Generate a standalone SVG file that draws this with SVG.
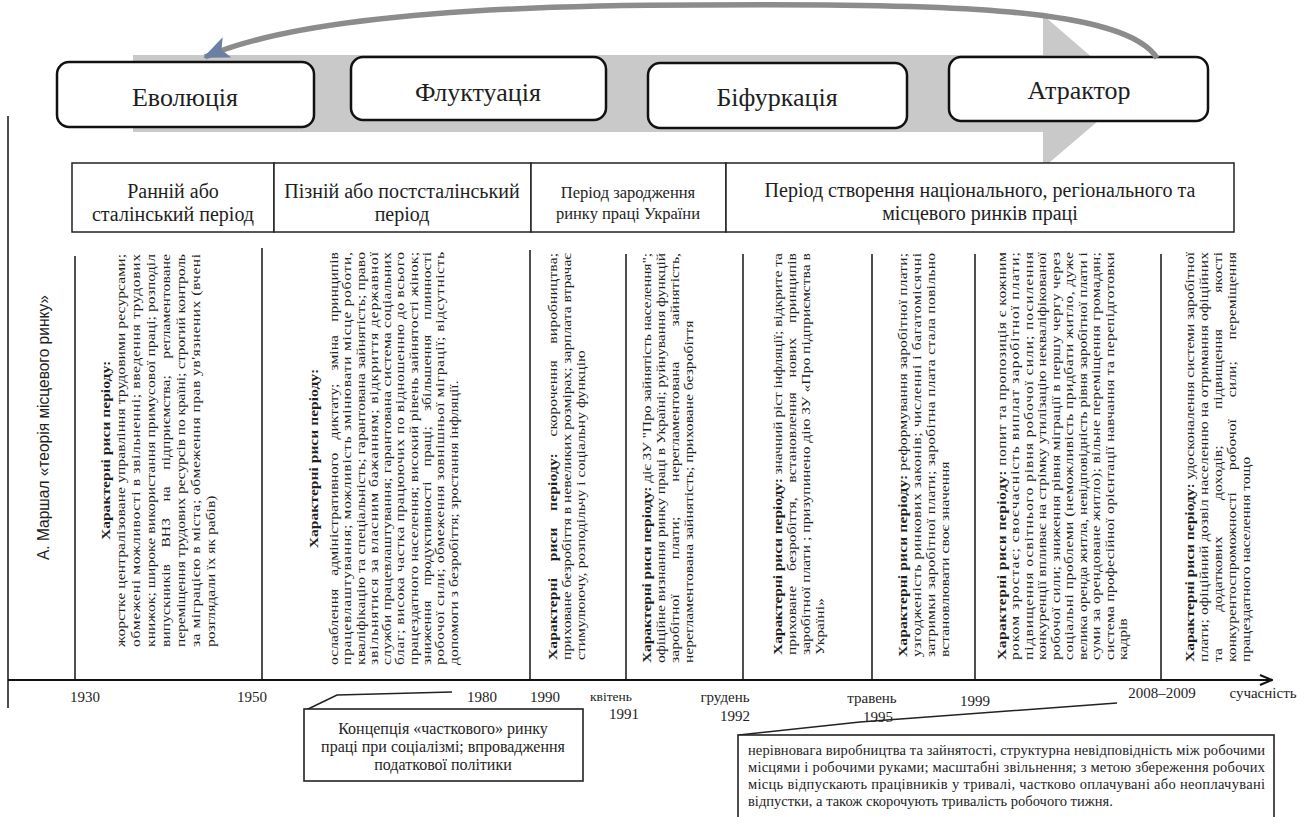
<svg xmlns="http://www.w3.org/2000/svg" width="1305" height="817" viewBox="0 0 1305 817" font-family="'Liberation Serif', 'Times New Roman', Times, 'DejaVu Serif', serif">
  <defs>
    <marker id="curveHead" viewBox="0 0 26 22" refX="24" refY="11" markerWidth="26" markerHeight="22" markerUnits="userSpaceOnUse" orient="auto">
      <path d="M0,0 L26,11 L0,22 L6,11 Z" fill="#6a7fa2"/>
    </marker>
    <marker id="axisHead" viewBox="0 0 14 12" refX="13" refY="6" markerWidth="14" markerHeight="12" markerUnits="userSpaceOnUse" orient="auto">
      <path d="M1,1 L13,6 L1,11" fill="none" stroke="#111" stroke-width="2"/>
    </marker>
    <style>
      text { fill: #1e1e1e; }
      .node rect { fill: #ffffff; stroke: #111; stroke-width: 2.5; }
      .nl { font-size: 26px; text-anchor: middle; }
      .hdr { font-size: 20px; text-anchor: middle; }
      .hdrs { font-size: 16.5px; text-anchor: middle; }
      .cell { fill: #ffffff; stroke: #222; stroke-width: 1.5; }
      .vline { stroke: #222; stroke-width: 1.6; }
      .vt { font-size: 12px; }
      .b { font-weight: bold; }
      .mid { text-anchor: middle; }
      .tick { font-size: 15px; text-anchor: middle; }
      .box { fill: #ffffff; stroke: #222; stroke-width: 1.6; }
      .lead { fill: none; stroke: #222; stroke-width: 1.6; }
    </style>
  </defs>

  <rect width="1305" height="817" fill="#ffffff"/>

  <!-- broad grey process arrow behind the phase boxes -->
  <path d="M133,55 H1043 V15 L1132,92 L1043,168 V132 H133 Z" fill="#c9c9c9"/>

  <!-- phases -->
  <g id="node-evolution" class="node">
    <rect x="57" y="62" width="257" height="65" rx="12"/>
    <text class="nl" x="185" y="106">Еволюція</text>
  </g>
  <g id="node-fluctuation" class="node">
    <rect x="351" y="57" width="255" height="63" rx="12"/>
    <text class="nl" x="478" y="101">Флуктуація</text>
  </g>
  <g id="node-bifurcation" class="node">
    <rect x="648" y="63" width="259" height="65" rx="12"/>
    <text class="nl" x="777" y="106">Біфуркація</text>
  </g>
  <g id="node-attractor" class="node">
    <rect x="949" y="57" width="259" height="64" rx="12"/>
    <text class="nl" x="1079" y="99">Атрактор</text>
  </g>

  <!-- period header row -->
  <g id="periods">
    <rect class="cell" x="72" y="163" width="202" height="69"/>
    <rect class="cell" x="274" y="163" width="257" height="69"/>
    <rect class="cell" x="531" y="163" width="195" height="69"/>
    <rect class="cell" x="726" y="163" width="508" height="69"/>
    <text class="hdr" x="173" y="198">Ранній або</text>
    <text class="hdr" x="173" y="221">сталінський період</text>
    <text class="hdr" x="402" y="198">Пізній або постсталінський</text>
    <text class="hdr" x="402" y="221">період</text>
    <text class="hdrs" x="628" y="198">Період зародження</text>
    <text class="hdrs" x="628" y="219">ринку праці України</text>
    <text class="hdr" x="980" y="197">Період створення національного, регіонального та</text>
    <text class="hdr" x="980" y="220">місцевого ринків праці</text>
  </g>

  <!-- frame: left rule, column rules and time axis -->
  <g id="frame">
    <line class="vline" x1="8" y1="116" x2="8" y2="708"/>
    <line class="vline" x1="75" y1="256" x2="75" y2="680"/>
    <line class="vline" x1="262" y1="248" x2="262" y2="680"/>
    <line class="vline" x1="530" y1="250" x2="530" y2="680"/>
    <line class="vline" x1="626" y1="254" x2="626" y2="680"/>
    <line class="vline" x1="743" y1="254" x2="743" y2="680"/>
    <line class="vline" x1="872" y1="254" x2="872" y2="680"/>
    <line class="vline" x1="975" y1="254" x2="975" y2="680"/>
    <line class="vline" x1="1161" y1="254" x2="1161" y2="680"/>
    <line x1="8" y1="680" x2="1272" y2="680" stroke="#111" stroke-width="2" marker-end="url(#axisHead)"/>
  </g>

  <text transform="translate(49,560) rotate(-90)" font-family="'Liberation Sans', Arial, sans-serif" font-size="17" textLength="265" lengthAdjust="spacingAndGlyphs">А. Маршал «теорія місцевого ринку»</text>

  <!-- column 1930–1950 -->
  <g id="col-1930" class="vt" transform="translate(110,647) rotate(-90) scale(1.3,1)">
    <text class="b mid" x="151.2" y="0">Характерні риси періоду:</text>
    <text x="0" y="15" textLength="302.3" lengthAdjust="spacing">жорстке централізоване управління трудовими ресурсами;</text>
    <text x="0" y="30" textLength="302.3" lengthAdjust="spacing">обмежені можливості в звільненні; введення трудових</text>
    <text x="0" y="45" textLength="302.3" lengthAdjust="spacing">книжок; широке використання примусової праці; розподіл</text>
    <text x="0" y="60" textLength="302.3" lengthAdjust="spacing" word-spacing="9.6">випускників ВНЗ на підприємства; регламентоване</text>
    <text x="0" y="75" textLength="302.3" lengthAdjust="spacing">переміщення трудових ресурсів по країні; строгий контроль</text>
    <text x="0" y="90" textLength="302.3" lengthAdjust="spacing">за міграцією в міста; обмеження прав ув'язнених (вчені</text>
    <text x="0" y="105">розглядали їх як рабів)</text>
  </g>

  <!-- column 1950–1990 -->
  <g id="col-1950" class="vt" transform="translate(318,665) rotate(-90) scale(1.3,1)">
    <text class="b mid" x="158.8" y="0">Характерні риси періоду:</text>
    <text x="0" y="20" textLength="317.7" lengthAdjust="spacing" word-spacing="7">ослаблення адміністративного диктату; зміна принципів</text>
    <text x="0" y="33.3" textLength="317.7" lengthAdjust="spacing">працевлаштування; можливість змінювати місце роботи,</text>
    <text x="0" y="46.6" textLength="317.7" lengthAdjust="spacing">кваліфікацію та спеціальність; гарантована зайнятість; право</text>
    <text x="0" y="59.9" textLength="317.7" lengthAdjust="spacing">звільнятися за власним бажанням; відкриття державної</text>
    <text x="0" y="73.2" textLength="317.7" lengthAdjust="spacing">служби працевлаштування; гарантована система соціальних</text>
    <text x="0" y="86.5" textLength="317.7" lengthAdjust="spacing">благ; висока частка працюючих по відношенню до всього</text>
    <text x="0" y="99.8" textLength="317.7" lengthAdjust="spacing">працездатного населення; високий рівень зайнятості жінок;</text>
    <text x="0" y="113.1" textLength="317.7" lengthAdjust="spacing" word-spacing="8.6">зниження продуктивності праці; збільшення плинності</text>
    <text x="0" y="126.4" textLength="317.7" lengthAdjust="spacing">робочої сили; обмеження зовнішньої міграції; відсутність</text>
    <text x="0" y="139.7">допомоги з безробіття; зростання інфляції.</text>
  </g>

  <!-- column 1990–1991 -->
  <g id="col-1990" class="vt" transform="translate(557,660) rotate(-90) scale(1.3,1)">
    <text x="0" y="0" textLength="313.1" lengthAdjust="spacing" word-spacing="9.6"><tspan class="b">Характерні риси періоду:</tspan> скорочення виробництва;</text>
    <text x="0" y="14" textLength="313.1" lengthAdjust="spacing">приховане безробіття в невеликих розмірах; зарплата втрачає</text>
    <text x="0" y="28">стимулюючу, розподільчу і соціальну функцію</text>
  </g>

  <!-- column 1991–1992 -->
  <g id="col-1991" class="vt" transform="translate(651,663) rotate(-90) scale(1.3,1)">
    <text x="0" y="0" textLength="315.4" lengthAdjust="spacing"><tspan class="b">Характерні риси періоду:</tspan> діє ЗУ "Про зайнятість населення";</text>
    <text x="0" y="14" textLength="315.4" lengthAdjust="spacing">офіційне визнання ринку праці в Україні; руйнування функцій</text>
    <text x="0" y="28" textLength="315.4" lengthAdjust="spacing" word-spacing="23.9">заробітної плати; нерегламентована зайнятість,</text>
    <text x="0" y="42">нерегламентована зайнятість; приховане безробіття</text>
  </g>

  <!-- column 1992–1995 -->
  <g id="col-1992" class="vt" transform="translate(782,655) rotate(-90) scale(1.3,1)">
    <text x="0" y="0" textLength="309.2" lengthAdjust="spacing"><tspan class="b">Характерні риси періоду:</tspan> значний ріст інфляції; відкрите та</text>
    <text x="0" y="14" textLength="309.2" lengthAdjust="spacing" word-spacing="8.3">приховане безробіття, встановлення нових принципів</text>
    <text x="0" y="28" textLength="309.2" lengthAdjust="spacing">заробітної плати ; призупинено дію ЗУ «Про підприємства в</text>
    <text x="0" y="42">Україні»</text>
  </g>

  <!-- column 1995–1999 -->
  <g id="col-1995" class="vt" transform="translate(907,657) rotate(-90) scale(1.3,1)">
    <text x="0" y="0" textLength="310.8" lengthAdjust="spacing"><tspan class="b">Характерні риси періоду:</tspan> реформування заробітної плати;</text>
    <text x="0" y="14" textLength="310.8" lengthAdjust="spacing">узгодженість ринкових законів; численні і багатомісячні</text>
    <text x="0" y="28" textLength="310.8" lengthAdjust="spacing">затримки заробітної плати; заробітна плата стала повільно</text>
    <text x="0" y="42">встановлювати своє значення</text>
  </g>

  <!-- column 1999–2009 -->
  <g id="col-1999" class="vt" transform="translate(1006,660) rotate(-90) scale(1.3,1)">
    <text x="0" y="0" textLength="313.8" lengthAdjust="spacing"><tspan class="b">Характерні риси періоду:</tspan> попит та пропозиція є кожним</text>
    <text x="0" y="13.5" textLength="313.8" lengthAdjust="spacing">роком зростає; своєчасність виплат заробітної плати;</text>
    <text x="0" y="27" textLength="313.8" lengthAdjust="spacing">підвищення освітнього рівня робочої сили; посилення</text>
    <text x="0" y="40.5" textLength="313.8" lengthAdjust="spacing">конкуренції впливає на стрімку утилізацію некваліфікованої</text>
    <text x="0" y="54" textLength="313.8" lengthAdjust="spacing">робочої сили; зниження рівня міграції в першу чергу через</text>
    <text x="0" y="67.5" textLength="313.8" lengthAdjust="spacing">соціальні проблеми (неможливість придбати житло, дуже</text>
    <text x="0" y="81" textLength="313.8" lengthAdjust="spacing">велика оренда житла, невідповідність рівня заробітної плати і</text>
    <text x="0" y="94.5" textLength="313.8" lengthAdjust="spacing">суми за орендоване житло); вільне переміщення громадян;</text>
    <text x="0" y="108" textLength="313.8" lengthAdjust="spacing">система професійної орієнтації навчання та перепідготовки</text>
    <text x="0" y="121.5">кадрів</text>
  </g>

  <!-- column 2009–present -->
  <g id="col-2009" class="vt" transform="translate(1194,662) rotate(-90) scale(1.3,1)">
    <text x="0" y="0" textLength="315.4" lengthAdjust="spacing"><tspan class="b">Характерні риси періоду:</tspan> удосконалення системи заробітної</text>
    <text x="0" y="14" textLength="315.4" lengthAdjust="spacing">плати; офіційний дозвіл населенню на отримання офіційних</text>
    <text x="0" y="28" textLength="315.4" lengthAdjust="spacing" word-spacing="24.7">та додаткових доходів; підвищення якості</text>
    <text x="0" y="42" textLength="315.4" lengthAdjust="spacing" word-spacing="13.8">конкурентоспроможності робочої сили; переміщення</text>
    <text x="0" y="56">працездатного населення тощо</text>
  </g>

  <!-- axis labels -->
  <g id="axis-labels" class="tick">
    <text x="85" y="702">1930</text>
    <text x="252" y="702">1950</text>
    <text x="482" y="702">1980</text>
    <text x="545" y="702">1990</text>
    <text x="611" y="701" font-size="13.5">квітень</text>
    <text x="624" y="719">1991</text>
    <text x="725" y="702">грудень</text>
    <text x="735" y="721">1992</text>
    <text x="872" y="703">травень</text>
    <text x="878" y="722">1995</text>
    <text x="975" y="706">1999</text>
    <text x="1162" y="698">2008–2009</text>
    <text x="1263" y="698">сучасність</text>
  </g>

  <!-- connectors -->
  <g id="connectors">
    <path d="M1157,58 C1125,8 950,3 700,5 C470,5 290,20 205,57" fill="none" stroke="#8c8c8c" stroke-width="5.5" marker-end="url(#curveHead)"/>
    <polyline class="lead" points="306,710 337,695 452,692"/>
    <polyline class="lead" points="739,735 860,722 1117,703"/>
  </g>

  <!-- callouts -->
  <g id="note-1980">
    <rect class="box" x="304" y="709" width="279" height="72"/>
    <text font-size="16" text-anchor="middle" x="443" y="734">Концепція «часткового» ринку</text>
    <text font-size="16" text-anchor="middle" x="443" y="752">праці при соціалізмі; впровадження</text>
    <text font-size="16" text-anchor="middle" x="443" y="770">податкової політики</text>
  </g>
  <g id="note-2008">
    <rect class="box" x="738" y="735" width="536" height="90"/>
    <text font-size="14.5" x="748" y="755" textLength="517" lengthAdjust="spacing">нерівновага виробництва та зайнятості, структурна невідповідність між робочими</text>
    <text font-size="14.5" x="748" y="772" textLength="517" lengthAdjust="spacing">місцями і робочими руками; масштабні звільнення; з метою збереження робочих</text>
    <text font-size="14.5" x="748" y="789" textLength="517" lengthAdjust="spacing">місць відпускають працівників у тривалі, частково оплачувані або неоплачувані</text>
    <text font-size="14.5" x="748" y="806">відпустки, а також скорочують тривалість робочого тижня.</text>
  </g>
</svg>
